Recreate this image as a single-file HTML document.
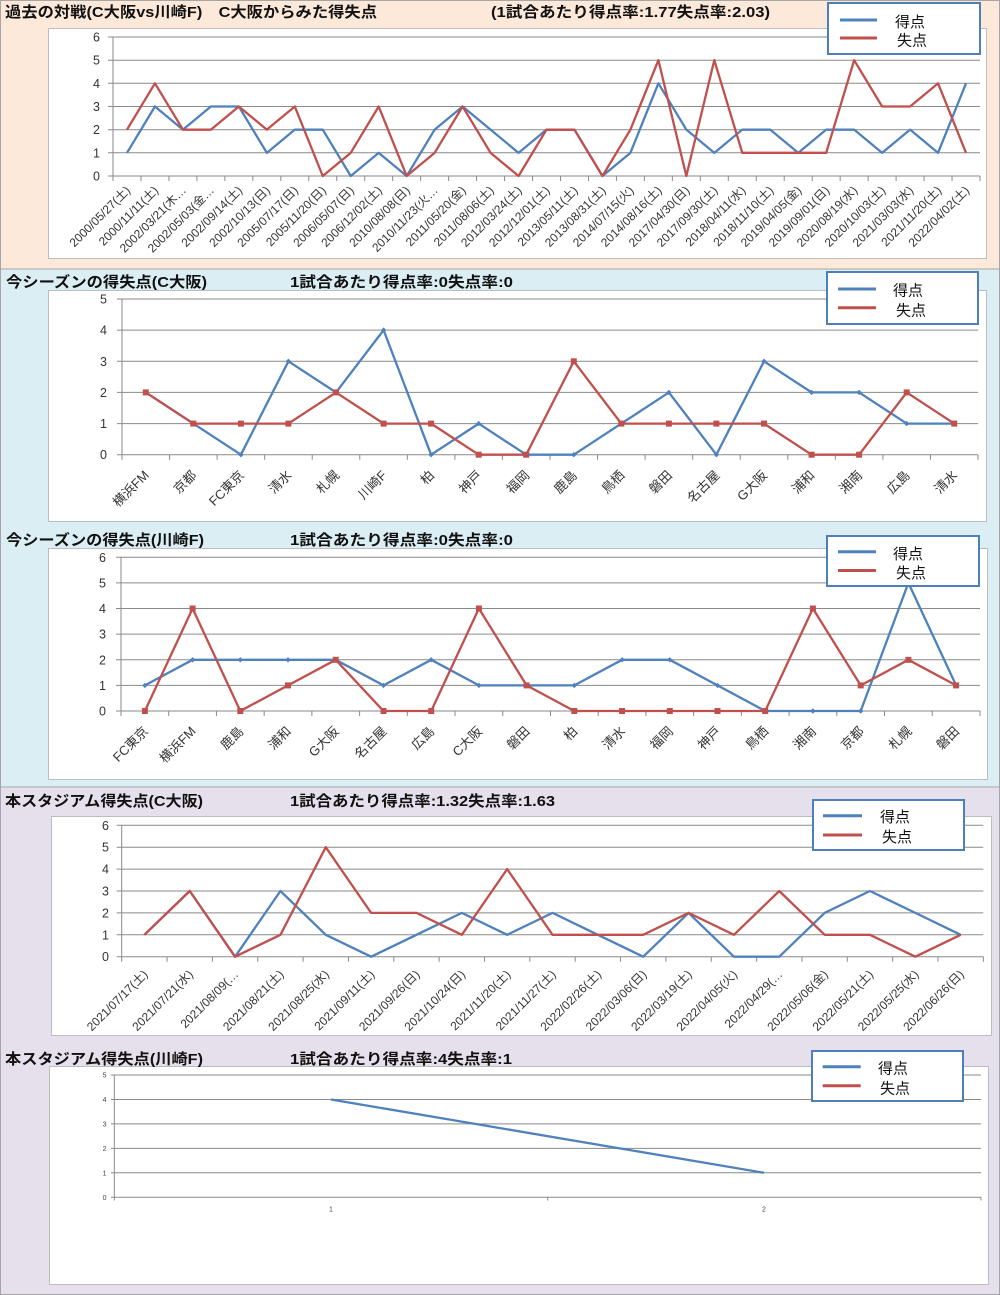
<!DOCTYPE html>
<html><head><meta charset="utf-8">
<style>
html,body{margin:0;padding:0;background:#fff;}
svg{display:block;}
.t{font-family:"Liberation Sans","Noto Sans CJK JP",sans-serif;font-weight:bold;font-size:15px;fill:#111;}
.yl{font-family:"Liberation Sans","Noto Sans CJK JP",sans-serif;font-size:12.5px;fill:#333;text-anchor:end;}
.xl{font-family:"Liberation Sans","Noto Sans CJK JP",sans-serif;font-size:12px;fill:#333;text-anchor:end;}
.tl{font-family:"Liberation Sans","Noto Sans CJK JP",sans-serif;font-size:13px;fill:#333;text-anchor:end;}
.lg{font-family:"Liberation Sans","Noto Sans CJK JP",sans-serif;font-size:15px;fill:#111;}
.g{stroke:#8a8a8a;stroke-width:1;fill:none;}
.pn{fill:#fff;stroke:#bdbdbd;stroke-width:1;}
.b{fill:none;stroke:#4f81bd;stroke-width:2.3;stroke-linejoin:round;}
.r{fill:none;stroke:#c0504d;stroke-width:2.3;stroke-linejoin:round;}
.bs{fill:none;stroke:#4f81bd;stroke-width:2.3;stroke-linejoin:round;vector-effect:non-scaling-stroke;}
.rs{fill:none;stroke:#c0504d;stroke-width:2.3;stroke-linejoin:round;vector-effect:non-scaling-stroke;}
.lb{fill:#fff;stroke:#4f7fbb;stroke-width:2;}
</style></head>
<body>
<svg width="1000" height="1295" viewBox="0 0 1000 1295" xmlns="http://www.w3.org/2000/svg">
<defs>
<marker id="sq" markerWidth="8" markerHeight="8" refX="4" refY="4" markerUnits="userSpaceOnUse"><rect x="1" y="1" width="6" height="6" fill="#c0504d"/></marker>
<marker id="dm" markerWidth="8" markerHeight="8" refX="4" refY="4" markerUnits="userSpaceOnUse"><path d="M4 1.3 L6.7 4 L4 6.7 L1.3 4Z" fill="#4f81bd"/></marker>
</defs>

<!-- bands -->
<rect x="0.5" y="0.5" width="999" height="268.5" fill="#fde9d9" stroke="#a6a6a6"/>
<rect x="0.5" y="269" width="999" height="518" fill="#daeef3" stroke="#a6a6a6"/>
<rect x="0.5" y="787" width="999" height="507.5" fill="#e5e0ec" stroke="#a6a6a6"/>

<!-- ================= CHART 1 ================= -->
<rect class="pn" x="48.5" y="28.5" width="938" height="230"/>
<path class="g" d="M113 37H980M113 60.2H980M113 83.3H980M113 106.5H980M113 129.7H980M113 152.8H980M113 176H980M113 37V176M108 37H113M108 60.2H113M108 83.3H113M108 106.5H113M108 129.7H113M108 152.8H113M108 176H113"/>
<line x1="112.5" y1="178.5" x2="981" y2="178.5" stroke="#8a8a8a" stroke-width="5" stroke-dasharray="1 26.968"/>
<g class="yl">
<text x="100" y="41.5">6</text><text x="100" y="64.7">5</text><text x="100" y="87.8">4</text><text x="100" y="111">3</text><text x="100" y="134.2">2</text><text x="100" y="157.3">1</text><text x="100" y="180.5">0</text>
</g>
<g class="xl">
<text transform="translate(131,191) rotate(-45)">2000/05/27(土)</text>
<text transform="translate(159,191) rotate(-45)">2000/11/11(土)</text>
<text transform="translate(186.9,191) rotate(-45)">2002/03/21(木…</text>
<text transform="translate(214.9,191) rotate(-45)">2002/05/03(金…</text>
<text transform="translate(242.9,191) rotate(-45)">2002/09/14(土)</text>
<text transform="translate(270.8,191) rotate(-45)">2002/10/13(日)</text>
<text transform="translate(298.8,191) rotate(-45)">2005/07/17(日)</text>
<text transform="translate(326.8,191) rotate(-45)">2005/11/20(日)</text>
<text transform="translate(354.7,191) rotate(-45)">2006/05/07(日)</text>
<text transform="translate(382.7,191) rotate(-45)">2006/12/02(土)</text>
<text transform="translate(410.7,191) rotate(-45)">2010/08/08(日)</text>
<text transform="translate(438.6,191) rotate(-45)">2010/11/23(火…</text>
<text transform="translate(466.6,191) rotate(-45)">2011/05/20(金)</text>
<text transform="translate(494.6,191) rotate(-45)">2011/08/06(土)</text>
<text transform="translate(522.5,191) rotate(-45)">2012/03/24(土)</text>
<text transform="translate(550.5,191) rotate(-45)">2012/12/01(土)</text>
<text transform="translate(578.5,191) rotate(-45)">2013/05/11(土)</text>
<text transform="translate(606.4,191) rotate(-45)">2013/08/31(土)</text>
<text transform="translate(634.4,191) rotate(-45)">2014/07/15(火)</text>
<text transform="translate(662.4,191) rotate(-45)">2014/08/16(土)</text>
<text transform="translate(690.3,191) rotate(-45)">2017/04/30(日)</text>
<text transform="translate(718.3,191) rotate(-45)">2017/09/30(土)</text>
<text transform="translate(746.3,191) rotate(-45)">2018/04/11(水)</text>
<text transform="translate(774.2,191) rotate(-45)">2018/11/10(土)</text>
<text transform="translate(802.2,191) rotate(-45)">2019/04/05(金)</text>
<text transform="translate(830.2,191) rotate(-45)">2019/09/01(日)</text>
<text transform="translate(858.2,191) rotate(-45)">2020/08/19(水)</text>
<text transform="translate(886.1,191) rotate(-45)">2020/10/03(土)</text>
<text transform="translate(914.1,191) rotate(-45)">2021/03/03(水)</text>
<text transform="translate(942.1,191) rotate(-45)">2021/11/20(土)</text>
<text transform="translate(970,191) rotate(-45)">2022/04/02(土)</text>
</g>
<g transform="translate(113,176) scale(27.968,-23.167)">
<polyline class="bs" points="0.5,1 1.5,3 2.5,2 3.5,3 4.5,3 5.5,1 6.5,2 7.5,2 8.5,0 9.5,1 10.5,0 11.5,2 12.5,3 13.5,2 14.5,1 15.5,2 16.5,2 17.5,0 18.5,1 19.5,4 20.5,2 21.5,1 22.5,2 23.5,2 24.5,1 25.5,2 26.5,2 27.5,1 28.5,2 29.5,1 30.5,4"/>
<polyline class="rs" points="0.5,2 1.5,4 2.5,2 3.5,2 4.5,3 5.5,2 6.5,3 7.5,0 8.5,1 9.5,3 10.5,0 11.5,1 12.5,3 13.5,1 14.5,0 15.5,2 16.5,2 17.5,0 18.5,2 19.5,5 20.5,0 21.5,5 22.5,1 23.5,1 24.5,1 25.5,1 26.5,5 27.5,3 28.5,3 29.5,4 30.5,1"/>
</g>
<rect class="lb" x="828" y="3" width="152" height="51"/>
<line x1="840" y1="20" x2="877" y2="20" stroke="#4f81bd" stroke-width="3"/>
<line x1="840" y1="38" x2="877" y2="38" stroke="#c0504d" stroke-width="3"/>
<text class="lg" x="895" y="27">得点</text>
<text class="lg" x="897" y="45.5">失点</text>

<!-- ================= CHART 2 ================= -->
<rect class="pn" x="48.5" y="290.5" width="938" height="231"/>
<path class="g" d="M122 299H978M122 330.1H978M122 361.3H978M122 392.4H978M122 423.6H978M122 454.7H978M122 299V454.7M117 299H122M117 330.1H122M117 361.3H122M117 392.4H122M117 423.6H122M117 454.7H122"/>
<line x1="121.5" y1="457.2" x2="979" y2="457.2" stroke="#8a8a8a" stroke-width="5" stroke-dasharray="1 46.556"/>
<g class="yl">
<text x="107" y="303.5">5</text><text x="107" y="334.6">4</text><text x="107" y="365.8">3</text><text x="107" y="396.9">2</text><text x="107" y="428.1">1</text><text x="107" y="459.2">0</text>
</g>
<g class="tl">
<text transform="translate(149.8,476) rotate(-45)">横浜FM</text>
<text transform="translate(197.3,476) rotate(-45)">京都</text>
<text transform="translate(244.9,476) rotate(-45)">FC東京</text>
<text transform="translate(292.4,476) rotate(-45)">清水</text>
<text transform="translate(340,476) rotate(-45)">札幌</text>
<text transform="translate(387.6,476) rotate(-45)">川崎F</text>
<text transform="translate(435.1,476) rotate(-45)">柏</text>
<text transform="translate(482.7,476) rotate(-45)">神戸</text>
<text transform="translate(530.2,476) rotate(-45)">福岡</text>
<text transform="translate(577.8,476) rotate(-45)">鹿島</text>
<text transform="translate(625.3,476) rotate(-45)">鳥栖</text>
<text transform="translate(672.9,476) rotate(-45)">磐田</text>
<text transform="translate(720.4,476) rotate(-45)">名古屋</text>
<text transform="translate(768,476) rotate(-45)">G大阪</text>
<text transform="translate(815.6,476) rotate(-45)">浦和</text>
<text transform="translate(863.1,476) rotate(-45)">湘南</text>
<text transform="translate(910.7,476) rotate(-45)">広島</text>
<text transform="translate(958.2,476) rotate(-45)">清水</text>
</g>
<polyline class="b" marker-start="url(#dm)" marker-mid="url(#dm)" marker-end="url(#dm)" points="145.8,392.4 193.3,423.6 240.9,454.7 288.4,361.3 336,392.4 383.6,330.1 431.1,454.7 478.7,423.6 526.2,454.7 573.8,454.7 621.3,423.6 668.9,392.4 716.4,454.7 764,361.3 811.6,392.4 859.1,392.4 906.7,423.6 954.2,423.6"/>
<polyline class="r" marker-start="url(#sq)" marker-mid="url(#sq)" marker-end="url(#sq)" points="145.8,392.4 193.3,423.6 240.9,423.6 288.4,423.6 336,392.4 383.6,423.6 431.1,423.6 478.7,454.7 526.2,454.7 573.8,361.3 621.3,423.6 668.9,423.6 716.4,423.6 764,423.6 811.6,454.7 859.1,454.7 906.7,392.4 954.2,423.6"/>
<rect class="lb" x="827" y="272" width="151" height="52"/>
<line x1="838" y1="289" x2="876" y2="289" stroke="#4f81bd" stroke-width="3"/>
<line x1="838" y1="307.7" x2="876" y2="307.7" stroke="#c0504d" stroke-width="3"/>
<text class="lg" x="893" y="295.5">得点</text>
<text class="lg" x="896" y="315.5">失点</text>

<!-- ================= CHART 3 ================= -->
<rect class="pn" x="48.5" y="548.5" width="939" height="231"/>
<path class="g" d="M121 557.3H980M121 582.9H980M121 608.5H980M121 634.1H980M121 659.8H980M121 685.4H980M121 711H980M121 557.3V711M116 557.3H121M116 582.9H121M116 608.5H121M116 634.1H121M116 659.8H121M116 685.4H121M116 711H121"/>
<line x1="120.5" y1="713.5" x2="981" y2="713.5" stroke="#8a8a8a" stroke-width="5" stroke-dasharray="1 46.72"/>
<g class="yl">
<text x="106" y="561.8">6</text><text x="106" y="587.4">5</text><text x="106" y="613">4</text><text x="106" y="638.6">3</text><text x="106" y="664.3">2</text><text x="106" y="689.9">1</text><text x="106" y="715.5">0</text>
</g>
<g class="tl">
<text transform="translate(148.9,732) rotate(-45)">FC東京</text>
<text transform="translate(196.6,732) rotate(-45)">横浜FM</text>
<text transform="translate(244.3,732) rotate(-45)">鹿島</text>
<text transform="translate(292,732) rotate(-45)">浦和</text>
<text transform="translate(339.7,732) rotate(-45)">G大阪</text>
<text transform="translate(387.5,732) rotate(-45)">名古屋</text>
<text transform="translate(435.2,732) rotate(-45)">広島</text>
<text transform="translate(482.9,732) rotate(-45)">C大阪</text>
<text transform="translate(530.6,732) rotate(-45)">磐田</text>
<text transform="translate(578.3,732) rotate(-45)">柏</text>
<text transform="translate(626.1,732) rotate(-45)">清水</text>
<text transform="translate(673.8,732) rotate(-45)">福岡</text>
<text transform="translate(721.5,732) rotate(-45)">神戸</text>
<text transform="translate(769.2,732) rotate(-45)">鳥栖</text>
<text transform="translate(816.9,732) rotate(-45)">湘南</text>
<text transform="translate(864.7,732) rotate(-45)">京都</text>
<text transform="translate(912.4,732) rotate(-45)">札幌</text>
<text transform="translate(960.1,732) rotate(-45)">磐田</text>
</g>
<polyline class="b" marker-start="url(#dm)" marker-mid="url(#dm)" marker-end="url(#dm)" points="144.9,685.4 192.6,659.8 240.3,659.8 288,659.8 335.7,659.8 383.5,685.4 431.2,659.8 478.9,685.4 526.6,685.4 574.3,685.4 622.1,659.8 669.8,659.8 717.5,685.4 765.2,711 812.9,711 860.7,711 908.4,582.9 956.1,685.4"/>
<polyline class="r" marker-start="url(#sq)" marker-mid="url(#sq)" marker-end="url(#sq)" points="144.9,711 192.6,608.5 240.3,711 288,685.4 335.7,659.8 383.5,711 431.2,711 478.9,608.5 526.6,685.4 574.3,711 622.1,711 669.8,711 717.5,711 765.2,711 812.9,608.5 860.7,685.4 908.4,659.8 956.1,685.4"/>
<rect class="lb" x="827" y="536" width="152" height="50"/>
<line x1="838" y1="551.7" x2="876" y2="551.7" stroke="#4f81bd" stroke-width="3"/>
<line x1="838" y1="570.5" x2="876" y2="570.5" stroke="#c0504d" stroke-width="3"/>
<text class="lg" x="893" y="559">得点</text>
<text class="lg" x="896" y="578">失点</text>

<!-- ================= CHART 4 ================= -->
<rect class="pn" x="51.5" y="816.5" width="940" height="219"/>
<path class="g" d="M121.7 825.3H983.3M121.7 847.2H983.3M121.7 869.1H983.3M121.7 891H983.3M121.7 912.9H983.3M121.7 934.8H983.3M121.7 956.7H983.3M121.7 825.3V956.7M116.7 825.3H121.7M116.7 847.2H121.7M116.7 869.1H121.7M116.7 891H121.7M116.7 912.9H121.7M116.7 934.8H121.7M116.7 956.7H121.7"/>
<line x1="121.2" y1="959.2" x2="984" y2="959.2" stroke="#8a8a8a" stroke-width="5" stroke-dasharray="1 44.35"/>
<g class="yl">
<text x="109" y="829.8">6</text><text x="109" y="851.7">5</text><text x="109" y="873.6">4</text><text x="109" y="895.5">3</text><text x="109" y="917.4">2</text><text x="109" y="939.3">1</text><text x="109" y="961.2">0</text>
</g>
<g class="xl">
<text transform="translate(148.4,975) rotate(-45)">2021/07/17(土)</text>
<text transform="translate(193.8,975) rotate(-45)">2021/07/21(水)</text>
<text transform="translate(239.1,975) rotate(-45)">2021/08/09(…</text>
<text transform="translate(284.5,975) rotate(-45)">2021/08/21(土)</text>
<text transform="translate(329.8,975) rotate(-45)">2021/08/25(水)</text>
<text transform="translate(375.2,975) rotate(-45)">2021/09/11(土)</text>
<text transform="translate(420.5,975) rotate(-45)">2021/09/26(日)</text>
<text transform="translate(465.9,975) rotate(-45)">2021/10/24(日)</text>
<text transform="translate(511.2,975) rotate(-45)">2021/11/20(土)</text>
<text transform="translate(556.6,975) rotate(-45)">2021/11/27(土)</text>
<text transform="translate(601.9,975) rotate(-45)">2022/02/26(土)</text>
<text transform="translate(647.3,975) rotate(-45)">2022/03/06(日)</text>
<text transform="translate(692.6,975) rotate(-45)">2022/03/19(土)</text>
<text transform="translate(738,975) rotate(-45)">2022/04/05(火)</text>
<text transform="translate(783.3,975) rotate(-45)">2022/04/29(…</text>
<text transform="translate(828.7,975) rotate(-45)">2022/05/06(金)</text>
<text transform="translate(874,975) rotate(-45)">2022/05/21(土)</text>
<text transform="translate(919.4,975) rotate(-45)">2022/05/25(水)</text>
<text transform="translate(964.7,975) rotate(-45)">2022/06/26(日)</text>
</g>
<g transform="translate(121.7,956.7) scale(45.35,-21.9)">
<polyline class="bs" points="0.5,1 1.5,3 2.5,0 3.5,3 4.5,1 5.5,0 6.5,1 7.5,2 8.5,1 9.5,2 10.5,1 11.5,0 12.5,2 13.5,0 14.5,0 15.5,2 16.5,3 17.5,2 18.5,1"/>
<polyline class="rs" points="0.5,1 1.5,3 2.5,0 3.5,1 4.5,5 5.5,2 6.5,2 7.5,1 8.5,4 9.5,1 10.5,1 11.5,1 12.5,2 13.5,1 14.5,3 15.5,1 16.5,1 17.5,0 18.5,1"/>
</g>
<rect class="lb" x="813" y="800" width="151" height="50"/>
<line x1="823" y1="815.7" x2="862" y2="815.7" stroke="#4f81bd" stroke-width="3"/>
<line x1="823" y1="835" x2="862" y2="835" stroke="#c0504d" stroke-width="3"/>
<text class="lg" x="880" y="822">得点</text>
<text class="lg" x="882" y="842">失点</text>

<!-- ================= CHART 5 ================= -->
<rect class="pn" x="49.5" y="1066.5" width="939" height="218"/>
<path class="g" d="M114.3 1075H981M114.3 1099.5H981M114.3 1123.9H981M114.3 1148.4H981M114.3 1172.8H981M114.3 1197.3H981M114.3 1075V1197.3M111 1075H114.3M111 1099.5H114.3M111 1123.9H114.3M111 1148.4H114.3M111 1172.8H114.3M111 1197.3H114.3M114.3 1197.3V1200.5M547.7 1197.3V1200.5M981 1197.3V1200.5"/>
<g font-family="Liberation Sans, sans-serif" font-size="7" fill="#444" text-anchor="end">
<text x="106.5" y="1077.5">5</text><text x="106.5" y="1102">4</text><text x="106.5" y="1126.4">3</text><text x="106.5" y="1150.9">2</text><text x="106.5" y="1175.3">1</text><text x="106.5" y="1199.8">0</text>
</g>
<g font-family="Liberation Sans, sans-serif" font-size="7" fill="#444" text-anchor="middle">
<text x="331" y="1211.5">1</text><text x="764" y="1211.5">2</text>
</g>
<polyline class="b" points="331,1099.5 764,1172.8"/>
<rect class="lb" x="812" y="1051" width="151" height="50"/>
<line x1="822.7" y1="1066.7" x2="860.7" y2="1066.7" stroke="#4f81bd" stroke-width="3"/>
<line x1="822.7" y1="1085.7" x2="860.7" y2="1085.7" stroke="#c0504d" stroke-width="3"/>
<text class="lg" x="878" y="1073.5">得点</text>
<text class="lg" x="880" y="1093.5">失点</text>

<!-- ================= TITLES (drawn last) ================= -->
<text class="t" x="5" y="17" textLength="372" lengthAdjust="spacingAndGlyphs">過去の対戦(C大阪vs川崎F)　C大阪からみた得失点</text>
<text class="t" x="491" y="17" textLength="279" lengthAdjust="spacingAndGlyphs">(1試合あたり得点率:1.77失点率:2.03)</text>
<text class="t" x="6" y="287" textLength="201" lengthAdjust="spacingAndGlyphs">今シーズンの得失点(C大阪)</text>
<text class="t" x="290" y="287" textLength="223" lengthAdjust="spacingAndGlyphs">1試合あたり得点率:0失点率:0</text>
<text class="t" x="6" y="545" textLength="198" lengthAdjust="spacingAndGlyphs">今シーズンの得失点(川崎F)</text>
<text class="t" x="290" y="545" textLength="223" lengthAdjust="spacingAndGlyphs">1試合あたり得点率:0失点率:0</text>
<text class="t" x="5" y="806" textLength="198" lengthAdjust="spacingAndGlyphs">本スタジアム得失点(C大阪)</text>
<text class="t" x="290" y="806" textLength="265" lengthAdjust="spacingAndGlyphs">1試合あたり得点率:1.32失点率:1.63</text>
<text class="t" x="5" y="1064" textLength="198" lengthAdjust="spacingAndGlyphs">本スタジアム得失点(川崎F)</text>
<text class="t" x="290" y="1064" textLength="222" lengthAdjust="spacingAndGlyphs">1試合あたり得点率:4失点率:1</text>
</svg>
</body></html>
